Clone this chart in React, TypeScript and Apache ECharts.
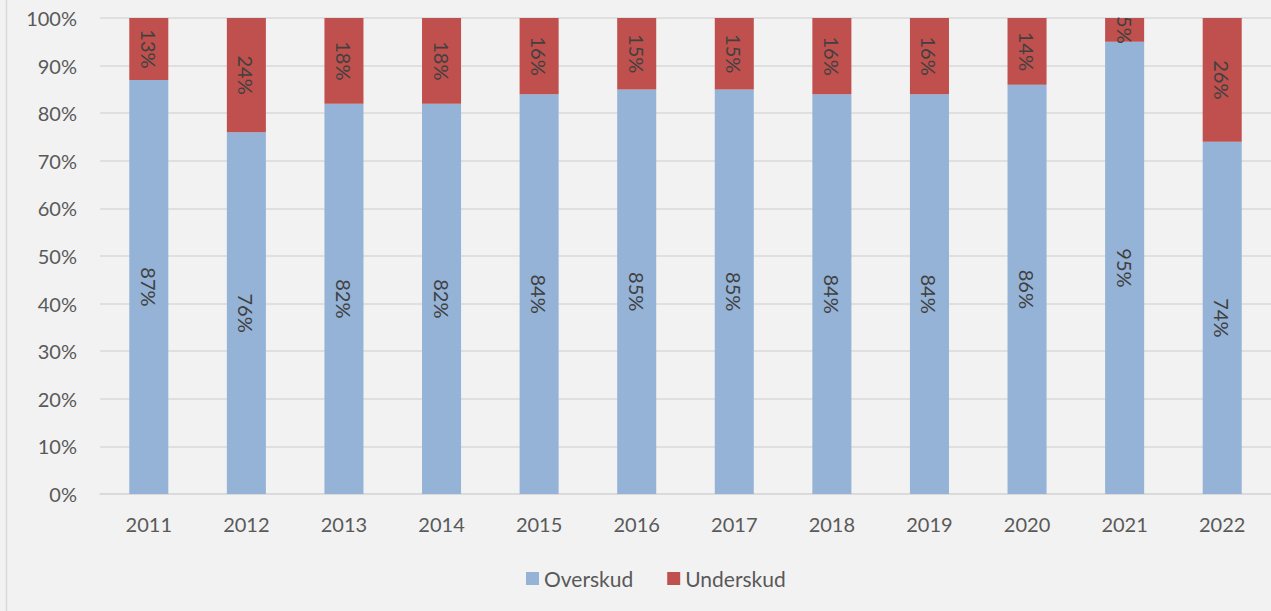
import React, { useEffect, useRef } from "react";
import * as echarts from "echarts";

const years = ["2011", "2012", "2013", "2014", "2015", "2016", "2017", "2018", "2019", "2020", "2021", "2022"];
const overskud = [87, 76, 82, 82, 84, 85, 85, 84, 84, 86, 95, 74];
const underskud = [13, 24, 18, 18, 16, 15, 15, 16, 16, 14, 5, 26];
const seriesNames = ["Overskud", "Underskud"];

const FONT = "Lato";

export default function App() {
  const ref = useRef<HTMLDivElement>(null);
  useEffect(() => {
    if (!ref.current) return;
    const chart = echarts.init(ref.current, undefined, { renderer: "svg" });
    const label = {
      show: true,
      position: "inside",
      rotate: -90,
      formatter: (p: any) => p.value + "%",
      color: "#404040",
      fontSize: 20,
      fontFamily: FONT,
    };
    chart.setOption({
      animation: false,
      backgroundColor: "#f2f2f2",
      textStyle: { fontFamily: FONT },
      grid: { left: 100, right: 0, top: 18, bottom: 117, containLabel: false },
      legend: {
        left: 521,
        top: 563,
        itemWidth: 13,
        itemHeight: 13,
        itemGap: 34,
        icon: "rect",
        textStyle: { fontSize: 21, color: "#595959", fontFamily: FONT },
        data: seriesNames,
      },
      xAxis: {
        type: "category",
        data: years,
        axisLine: { show: true, lineStyle: { color: "#d9d9d9", width: 1.5 } },
        axisTick: { show: false },
        axisLabel: { color: "#595959", fontSize: 20, fontFamily: FONT, margin: 20 },
      },
      yAxis: {
        type: "value",
        min: 0,
        max: 100,
        interval: 10,
        axisLine: { show: false },
        axisTick: { show: false },
        axisLabel: { color: "#595959", fontSize: 20, fontFamily: FONT, margin: 23, formatter: "{value}%" },
        splitLine: { lineStyle: { color: "#d9d9d9", width: 1.5 } },
      },
      series: [
        {
          name: seriesNames[0],
          type: "bar",
          stack: "total",
          barWidth: "40%",
          data: overskud,
          itemStyle: { color: "#95b3d7" },
          label,
        },
        {
          name: seriesNames[1],
          type: "bar",
          stack: "total",
          barWidth: "40%",
          data: underskud,
          itemStyle: { color: "#c0504d" },
          label,
        },
      ],
      graphic: [
        {
          type: "rect",
          shape: { x: 90, y: 0, width: 1200, height: 17 },
          style: { fill: "#f2f2f2" },
          z: 100,
        },
        {
          type: "line",
          shape: { x1: 6.5, y1: 0, x2: 6.5, y2: 611 },
          style: { stroke: "#d9d9d9", lineWidth: 1.5 },
          z: 100,
        },
      ],
    });
    return () => chart.dispose();
  }, []);
  return (
    <div
      ref={ref}
      style={{ position: "absolute", left: 0, top: 0, width: 1271, height: 611 }}
    />
  );
}
